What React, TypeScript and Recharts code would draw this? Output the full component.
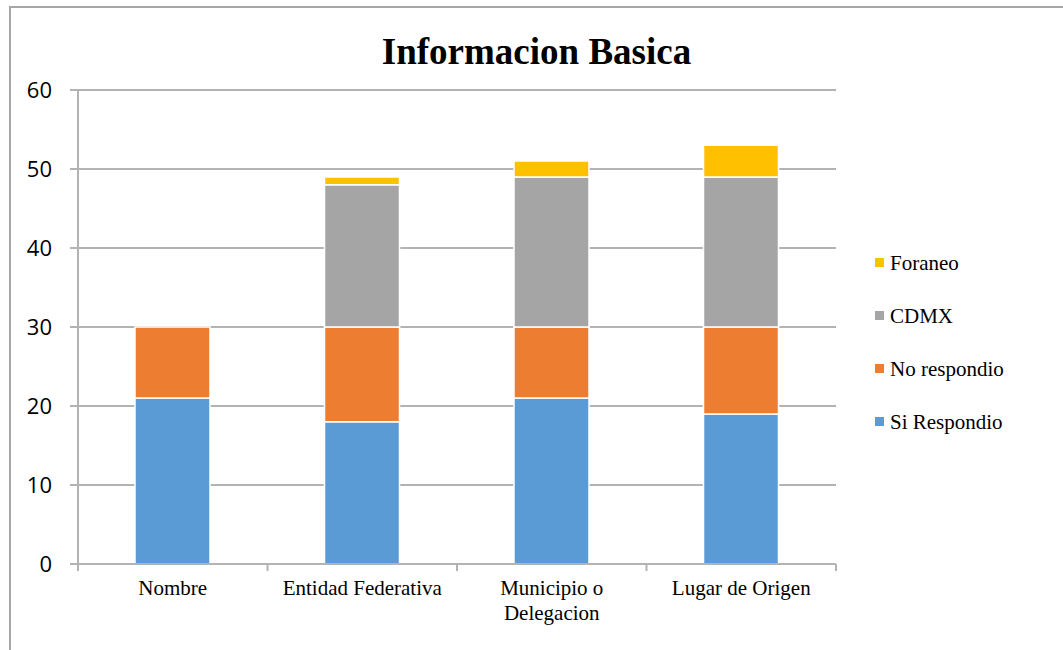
import { BarChart, Bar, XAxis, YAxis, CartesianGrid } from 'recharts'

const categories = ['Nombre', 'Entidad Federativa', 'Municipio o Delegacion', 'Lugar de Origen']
const siRespondio = [21, 18, 21, 19]
const noRespondio = [9, 12, 9, 11]
const cdmx = [0, 18, 19, 19]
const foraneo = [0, 1, 2, 4]
const yTicks = [0, 10, 20, 30, 40, 50, 60]

const SERIES = [
  { key: 'si', name: 'Si Respondio', color: '#5B9BD5' },
  { key: 'no', name: 'No respondio', color: '#ED7D31' },
  { key: 'cdmx', name: 'CDMX', color: '#A5A5A5' },
  { key: 'foraneo', name: 'Foraneo', color: '#FFC000' },
]

const LABEL_LINES: Record<string, string[]> = {
  'Municipio o Delegacion': ['Municipio o', 'Delegacion'],
}

const data = categories.map((c, i) => ({
  name: c,
  si: siRespondio[i],
  no: noRespondio[i],
  cdmx: cdmx[i],
  foraneo: foraneo[i],
}))

const GRID = '#b3b3b3'
const SERIF = '"Liberation Serif", "Times New Roman", serif'

function XTick(props: any) {
  const { x, y, payload, index, visibleTicksCount } = props
  const half = payload.offset || 94.75
  const lines = LABEL_LINES[payload.value] || [payload.value]
  return (
    <g>
      <line x1={x - half} x2={x - half} y1={y} y2={y + 7} stroke={GRID} strokeWidth={2} />
      {index === visibleTicksCount - 1 && (
        <line x1={x + half} x2={x + half} y1={y} y2={y + 7} stroke={GRID} strokeWidth={2} />
      )}
      <text x={x} y={y + 31} textAnchor="middle" fontFamily={SERIF} fontSize={21} fill="#000">
        {lines.map((l: string, i: number) => (
          <tspan key={i} x={x} dy={i === 0 ? 0 : 25}>{l}</tspan>
        ))}
      </text>
    </g>
  )
}

export default function App() {
  return (
    <div style={{ position: 'absolute', left: 0, top: 0, width: 1063, height: 650, overflow: 'hidden', background: '#fff' }}>
      <div style={{ position: 'absolute', left: 9, top: 6, width: 1100, height: 700, border: '2px solid #a6a6a6', boxSizing: 'border-box' }} />
      <div style={{ position: 'absolute', left: 10, width: 1053, top: 30, textAlign: 'center', fontFamily: SERIF, fontWeight: 'bold', fontSize: 37, lineHeight: '44px', color: '#000' }}>
        Informacion Basica
      </div>
      <div style={{ position: 'absolute', left: 0, top: 0 }}>
        <BarChart width={1063} height={650} data={data} margin={{ top: 90, right: 227, bottom: 0, left: 0 }} barSize={75}>
          <CartesianGrid vertical={false} stroke={GRID} strokeWidth={2} />
          <XAxis dataKey="name" stroke={GRID} strokeWidth={2} tickLine={false} tickSize={0} tickMargin={0} height={86} tick={<XTick />} interval={0} />
          <YAxis width={78} domain={[0, 60]} ticks={yTicks} stroke={GRID} strokeWidth={2} tickSize={8} tickMargin={18}
            tick={{ fill: '#000', fontSize: 22, fontFamily: '"Open Sans", sans-serif' }} />
          {SERIES.map((s) => (
            <Bar key={s.key} dataKey={s.key} name={s.name} stackId="a" fill={s.color} stroke="#fff" strokeWidth={1.5} isAnimationActive={false} />
          ))}
        </BarChart>
      </div>
      <div style={{ position: 'absolute', left: 875, top: 236, fontFamily: SERIF, fontSize: 21, color: '#000' }}>
        {[...SERIES].reverse().map((s) => (
          <div key={s.key} style={{ display: 'flex', alignItems: 'center', height: 53 }}>
            <span style={{ width: 9, height: 9, background: s.color, marginRight: 6, display: 'inline-block' }} />
            <span style={{ lineHeight: '24px' }}>{s.name}</span>
          </div>
        ))}
      </div>
    </div>
  )
}
